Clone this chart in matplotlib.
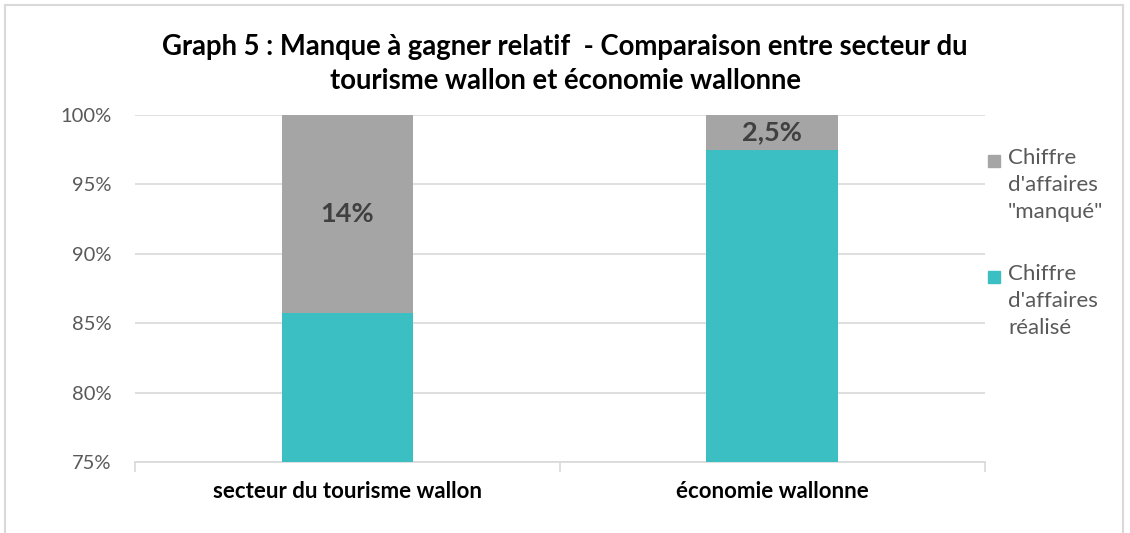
import matplotlib.pyplot as plt
from matplotlib.patches import Rectangle

plt.rcParams['font.family'] = ['Lato', 'DejaVu Sans']

categories = ['secteur du tourisme wallon', 'économie wallonne']
realise = [85.7, 97.5]
manque = [14.3, 2.5]
labels_manque = ['14%', '2,5%']
yticks = [75, 80, 85, 90, 95, 100]
legend_labels = ['Chiffre\nd\'affaires\n"manqué"', 'Chiffre\nd\'affaires\nréalisé']

teal = '#3BBFC3'
grey = '#A5A5A5'

fig = plt.figure(figsize=(11.3, 5.33), dpi=100)
ax = fig.add_axes([0.1195, 0.1332, 0.752, 0.651])

x = range(len(categories))
ax.bar(x, realise, width=0.31, color=teal, zorder=3)
ax.bar(x, manque, width=0.31, bottom=realise, color=grey, zorder=3)

for i, (b, h, t) in enumerate(zip(realise, manque, labels_manque)):
    ax.text(i, b + h / 2, t, ha='center', va='center', fontsize=19.5,
            fontweight='bold', color='#404040', zorder=4)

ax.set_ylim(75, 100)
ax.set_xlim(-0.5, 1.5)
ax.set_yticks(yticks)
ax.set_yticklabels([f'{v}%' for v in yticks], fontsize=14.5, color='#595959')
ax.yaxis.grid(True, color='#D9D9D9', linewidth=1.2, zorder=0)
ax.tick_params(axis='y', length=0, pad=17)

ax.set_xticks(list(x))
ax.set_xticklabels(categories, fontsize=16, fontweight='bold', color='#000000')
ax.tick_params(axis='x', which='major', length=0, pad=14)
ax.set_xticks([-0.5, 0.5, 1.5], minor=True)
ax.tick_params(axis='x', which='minor', length=7, color='#D9D9D9', width=1.2)

for s in ['top', 'right', 'left']:
    ax.spines[s].set_visible(False)
ax.spines['bottom'].set_color('#D9D9D9')
ax.spines['bottom'].set_linewidth(1.2)

fig.text(0.5, 0.880, 'Graph 5 : Manque à gagner relatif  - Comparaison entre secteur du\ntourisme wallon et économie wallonne',
         ha='center', va='center', fontsize=19.8, fontweight='bold', color='#000000',
         linespacing=1.38)

# legend drawn by hand: square beside the first line of each entry
W, H = 1130, 533
for j, (lab, col) in enumerate(zip(legend_labels, [grey, teal])):
    y_top = 161 + j * 116
    fig.patches.append(Rectangle((988 / W, 1 - (y_top + 6) / H), 12 / W, 12 / H,
                                 transform=fig.transFigure, color=col))
    fig.text(1008 / W, 1 - (y_top - 13) / H, lab, ha='left', va='top',
             fontsize=16, color='#595959', linespacing=1.45)

fig.patches.append(Rectangle((0.004, -0.01), 0.99, 1.0, transform=fig.transFigure,
                             fill=False, edgecolor='#D9D9D9', linewidth=1.5))

fig.savefig('out.png', dpi=100)
